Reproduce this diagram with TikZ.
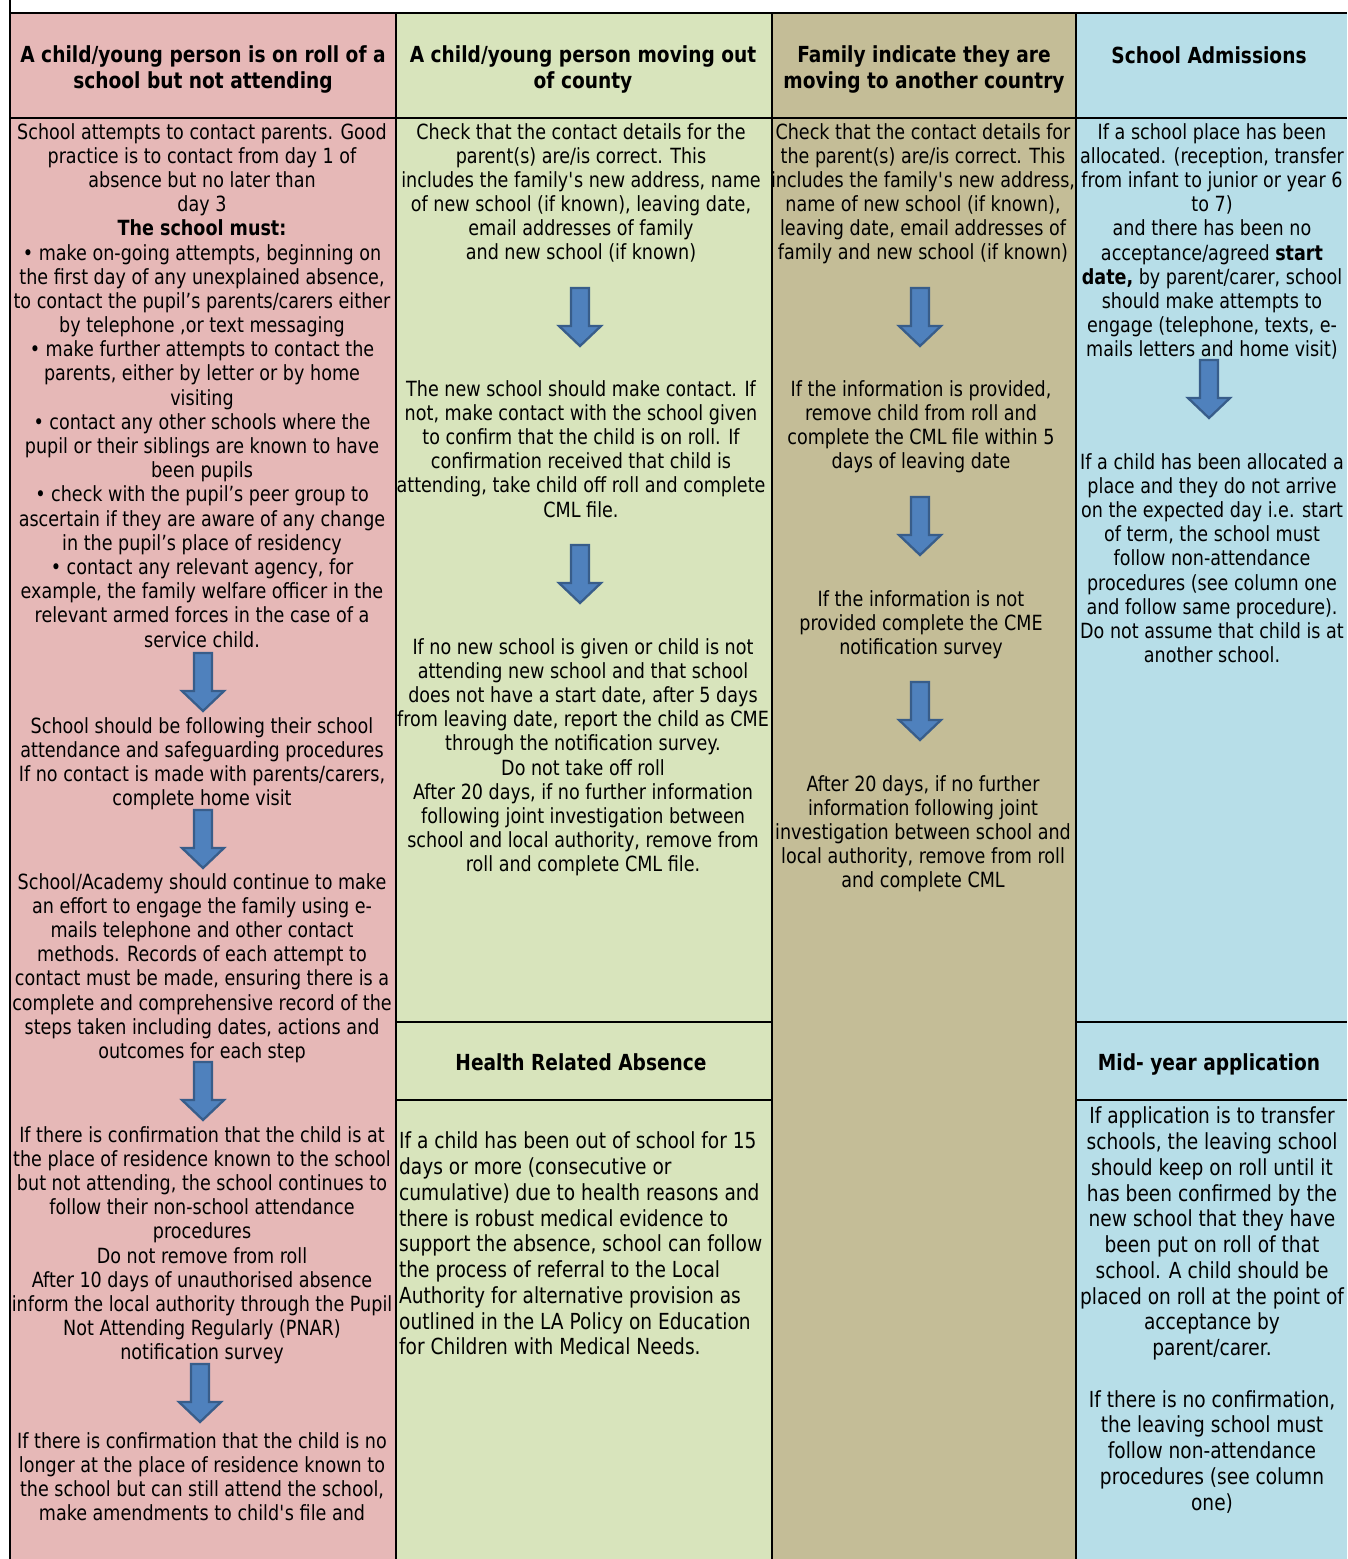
\documentclass[tikz,border=0pt]{standalone}
\usepackage{fontspec}
\setmainfont{DejaVu Sans}[FakeStretch=0.84]
\definecolor{rollpink}{HTML}{E6B8B7}
\definecolor{outgreen}{HTML}{D8E4BC}
\definecolor{abroadtan}{HTML}{C4BD97}
\definecolor{admitblue}{HTML}{B7DEE8}
\definecolor{arrowblue}{HTML}{4F81BD}
\definecolor{arrowedge}{HTML}{385D8A}
\newcommand{\cellfont}{\fontsize{11.9}{13.77}\selectfont}
\newcommand{\widecellfont}{\fontsize{12.6}{14.65}\selectfont}
\newcommand{\headfont}{\bfseries\fontsize{12.6}{14.8}\selectfont}

\begin{document}
\begin{tikzpicture}[x=0.02cm,y=-0.02cm,line width=1.3pt,
    every node/.style={inner sep=0pt,align=center,font=\cellfont},
    head/.style={font=\headfont},
    arrowline/.style={fill=arrowblue,draw=arrowedge,line width=1.3pt,line join=miter},
    pics/downarrow/.style={code={
      \draw[arrowline] (-9,0)--(9,0)--(9,38)--(21,38)--(0,58)--(-21,38)--(-9,38)--cycle;}}]
  \useasboundingbox (0,0) rectangle (1347,1559);
  % column colours
  \fill[rollpink] (10,13) rectangle (396,1559);
  \fill[outgreen] (396,13) rectangle (772,1559);
  \fill[abroadtan] (772,13) rectangle (1076,1559);
  \fill[admitblue] (1076,13) rectangle (1347,1559);
  % table rules
  \draw (10,0)--(10,1559) (10,13)--(1347,13) (10,118)--(1347,118);
  \draw (396,13)--(396,1559) (772,13)--(772,1559) (1076,13)--(1076,1559);
  \draw (396,1022)--(772,1022) (396,1100)--(772,1100);
  \draw (1076,1022)--(1347,1022) (1076,1100)--(1347,1100);

  % headers
  \node[head] (rollhead) at (203,69) {A child/young person is on roll of a\\school but not attending};
  \node[head] (countyhead) at (583,69) {A child/young person moving out\\of county};
  \node[head] (abroadhead) at (924,69) {Family indicate they are\\moving to another country};
  \node[head] (admithead) at (1209,55) {School Admissions};
  \node[head] (healthhead) at (581,1062) {Health Related Absence};
  \node[head] (midhead) at (1209,1064) {Mid- year application};

  % column one
  \node[anchor=north] (roll1) at (202,122) {School attempts to contact parents. Good\\practice is to contact from day 1 of\\absence but no later than\\day 3\\\textbf{The school must:}\\%
    • make on-going attempts, beginning on\\the first day of any unexplained absence,\\to contact the pupil’s parents/carers either\\by telephone ,or text messaging\\%
    • make further attempts to contact the\\parents, either by letter or by home\\visiting\\%
    • contact any other schools where the\\pupil or their siblings are known to have\\been pupils\\%
    • check with the pupil’s peer group to\\ascertain if they are aware of any change\\in the pupil’s place of residency\\%
    • contact any relevant agency, for\\example, the family welfare officer in the\\relevant armed forces in the case of a\\service child.};
  \pic at (203,653) {downarrow};
  \node[anchor=north] (roll2) at (202,716) {School should be following their school\\attendance and safeguarding procedures\\If no contact is made with parents/carers,\\complete home visit};
  \pic at (203,810) {downarrow};
  \node[anchor=north] (roll3) at (202,872) {School/Academy should continue to make\\an effort to engage the family using e-\\mails telephone and other contact\\methods. Records of each attempt to\\contact must be made, ensuring there is a\\complete and comprehensive record of the\\steps taken including dates, actions and\\outcomes for each step};
  \pic at (203,1062) {downarrow};
  \node[anchor=north] (roll4) at (202,1125) {If there is confirmation that the child is at\\the place of residence known to the school\\but not attending, the school continues to\\follow their non-school attendance\\procedures\\Do not remove from roll\\After 10 days of unauthorised absence\\inform the local authority through the Pupil\\Not Attending Regularly (PNAR)\\notification survey};
  \pic at (200,1364) {downarrow};
  \node[anchor=north] (roll5) at (202,1431) {If there is confirmation that the child is no\\longer at the place of residence known to\\the school but can still attend the school,\\make amendments to child\textquotesingle s file and};

  % column two
  \node[anchor=north] (county1) at (581,122) {Check that the contact details for the\\parent(s) are/is correct. This\\includes the family\textquotesingle s new address, name\\of new school (if known), leaving date,\\email addresses of family\\and new school (if known)};
  \pic at (580,288) {downarrow};
  \node[anchor=north] (county2) at (581,379) {The new school should make contact. If\\not, make contact with the school given\\to confirm that the child is on roll. If\\confirmation received that child is\\attending, take child off roll and complete\\CML file.};
  \pic at (580,545) {downarrow};
  \node[anchor=north] (county3) at (583,637) {If no new school is given or child is not\\attending new school and that school\\does not have a start date, after 5 days\\from leaving date, report the child as CME\\through the notification survey.\\Do not take off roll\\After 20 days, if no further information\\following joint investigation between\\school and local authority, remove from\\roll and complete CML file.};
  \node[anchor=north west,align=left,font=\widecellfont] (health1) at (398,1131) {If a child has been out of school for 15\\days or more (consecutive or\\cumulative) due to health reasons and\\there is robust medical evidence to\\support the absence, school can follow\\the process of referral to the Local\\Authority for alternative provision as\\outlined in the LA Policy on Education\\for Children with Medical Needs.};

  % column three
  \node[anchor=north] (abroad1) at (923,122) {Check that the contact details for\\the parent(s) are/is correct. This\\includes the family\textquotesingle s new address,\\name of new school (if known),\\leaving date, email addresses of\\family and new school (if known)};
  \pic at (920,288) {downarrow};
  \node[anchor=north] (abroad2) at (921,379) {If the information is provided,\\remove child from roll and\\complete the CML file within 5\\days of leaving date};
  \pic at (920,497) {downarrow};
  \node[anchor=north] (abroad3) at (921,589) {If the information is not\\provided complete the CME\\notification survey};
  \pic at (920,682) {downarrow};
  \node[anchor=north] (abroad4) at (923,774) {After 20 days, if no further\\information following joint\\investigation between school and\\local authority, remove from roll\\and complete CML};

  % column four
  \node[anchor=north] (admit1) at (1212,122) {If a school place has been\\allocated. (reception, transfer\\from infant to junior or year 6\\to 7)\\and there has been no\\acceptance/agreed \textbf{start}\\\textbf{date,} by parent/carer, school\\should make attempts to\\engage (telephone, texts, e-\\mails letters and home visit)};
  \pic at (1209,360) {downarrow};
  \node[anchor=north] (admit2) at (1212,452) {If a child has been allocated a\\place and they do not arrive\\on the expected day i.e. start\\of term, the school must\\follow non-attendance\\procedures (see column one\\and follow same procedure).\\Do not assume that child is at\\another school.};
  \node[anchor=north,font=\widecellfont] (mid1) at (1212,1106) {If application is to transfer\\schools, the leaving school\\should keep on roll until it\\has been confirmed by the\\new school that they have\\been put on roll of that\\school. A child should be\\placed on roll at the point of\\acceptance by\\parent/carer.\\[14.65pt]If there is no confirmation,\\the leaving school must\\follow non-attendance\\procedures (see column\\one)};
\end{tikzpicture}
\end{document}
